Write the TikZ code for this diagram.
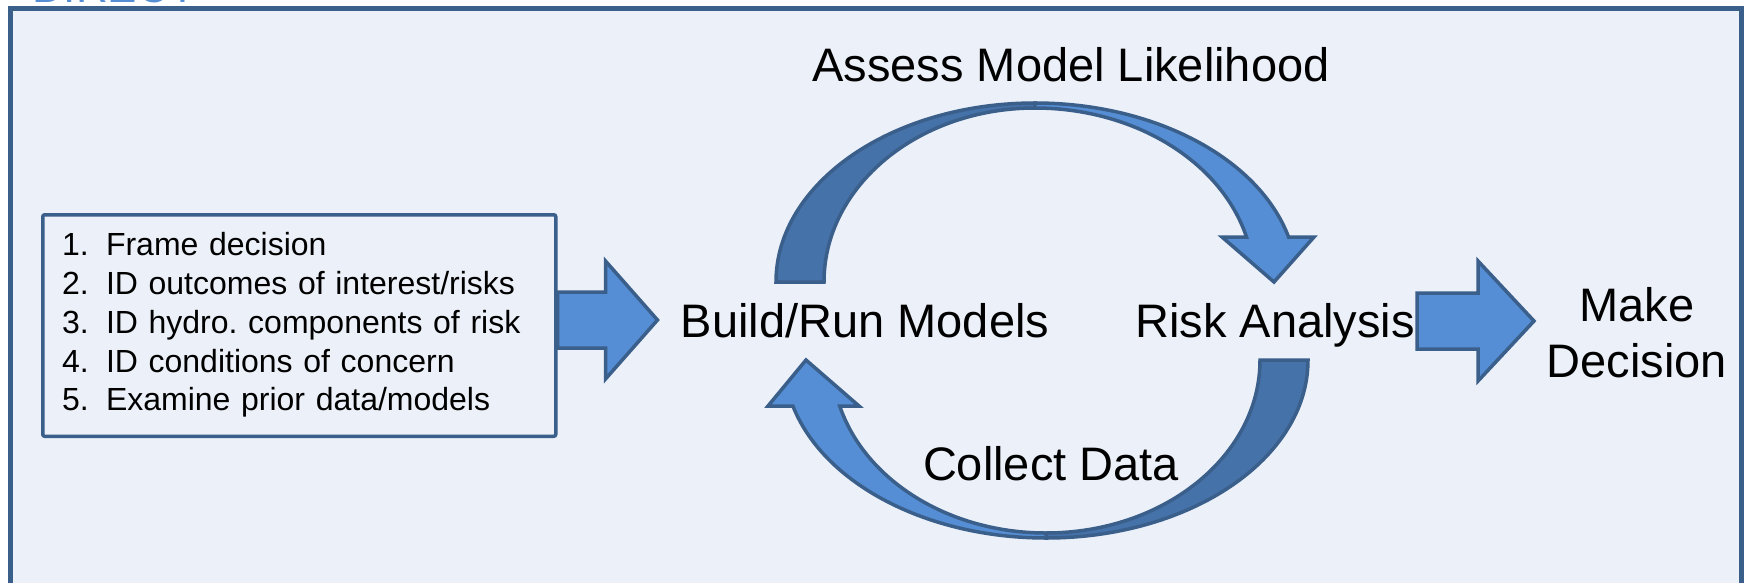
\documentclass[tikz,border=0pt]{standalone}
\usepackage{fontspec}
\setmainfont{Liberation Sans}
\frenchspacing
\definecolor{framecol}{HTML}{3A5F8B}
\definecolor{panel}{HTML}{ECF0F8}
\definecolor{arrlight}{HTML}{558ED5}
\definecolor{arrdark}{HTML}{4672AA}

\begin{document}
\begin{tikzpicture}[x=1pt,y=1pt]
\tikzstyle{every node}+=[inner sep=0pt]
\tikzstyle{lbl}=[anchor=base, font=\fontsize{47}{56}\selectfont]
\tikzstyle{flat}=[fill=arrlight, draw=framecol, line width=3.5pt, line join=miter]
\tikzstyle{deep}=[fill=arrdark, draw=framecol, line width=3.5pt, line join=miter]
\useasboundingbox (0,0) rectangle (1746,-582);
\clip (0,0) rectangle (1746,-582);
% panel
\draw [framecol, fill=panel, line width=5pt] (10,-8.5) rectangle (1741,-620);
\node [anchor=base west, text=arrlight, font=\fontsize{44}{44}\selectfont] (tag) at (32,-2.7) {DIRECT};
% loop arrows
\coordinate (topc) at (1035,-282);
\draw [deep] (topc) ++(-259,0) arc [start angle=180, end angle=90, x radius=259, y radius=179] -- ++(0,-5) arc [start angle=90, end angle=180, x radius=211, y radius=174] -- cycle;
\draw [flat] (topc) ++(0,179) arc [start angle=90, end angle=14.56, x radius=262, y radius=179] -- (1314,-237) -- (1274,-282) -- (1222,-237) -- (1246.5,-237) arc [start angle=14.99, end angle=90, x radius=219, y radius=174] -- cycle;
\coordinate (botc) at (1046,-360);
\draw [deep] (botc) ++(262,0) arc [start angle=0, end angle=-90, x radius=262, y radius=178] -- ++(0,5) arc [start angle=-90, end angle=0, x radius=214, y radius=173] -- cycle;
\draw [flat] (botc) ++(0,-178) arc [start angle=270, end angle=194.98, x radius=262, y radius=178] -- (768,-406) -- (806,-360) -- (859,-406) -- (839.7,-406) arc [start angle=195.42, end angle=270, x radius=214, y radius=173] -- cycle;
% labels
\node [lbl] (assess) at (1071,-81) {Assess Model Likelihood};
\node [lbl] (build) at (865,-337) {Build/Run Models};
\node [lbl] (risk) at (1275,-337) {Risk Analysis};
\node [lbl] (collect) at (1051,-480) {Collect Data};
\node [lbl, align=center] (decide) at (1637,-377) {Make\\Decision};
% steps box
\node [draw=framecol, line width=3.5pt, rounded corners=2pt, anchor=north west, inner xsep=19.25pt, inner ysep=13.9pt, text width=474.5pt, align=left, font=\fontsize{32}{38.75}\selectfont] (list) at (41,-213) {\strut\makebox[44pt][l]{1.}Frame decision\\
\strut\makebox[44pt][l]{2.}ID outcomes of interest/risks\\
\strut\makebox[44pt][l]{3.}ID hydro. components of risk\\
\strut\makebox[44pt][l]{4.}ID conditions of concern\\
\strut\makebox[44pt][l]{5.}Examine prior data/models};
% block arrows
\coordinate (inA) at (list.east |- 0,-320);
\draw [flat] (inA) ++(0,28) -- ++(48,0) -- ++(0,31) -- ++(52,-59) -- ++(-52,-59) -- ++(0,31) -- ++(-48,0) -- cycle;
\coordinate (inB) at (1417,-321);
\draw [flat] (inB) ++(0,28) -- ++(61,0) -- ++(0,32) -- ++(56,-60) -- ++(-56,-60) -- ++(0,32) -- ++(-61,0) -- cycle;
\end{tikzpicture}
\end{document}
